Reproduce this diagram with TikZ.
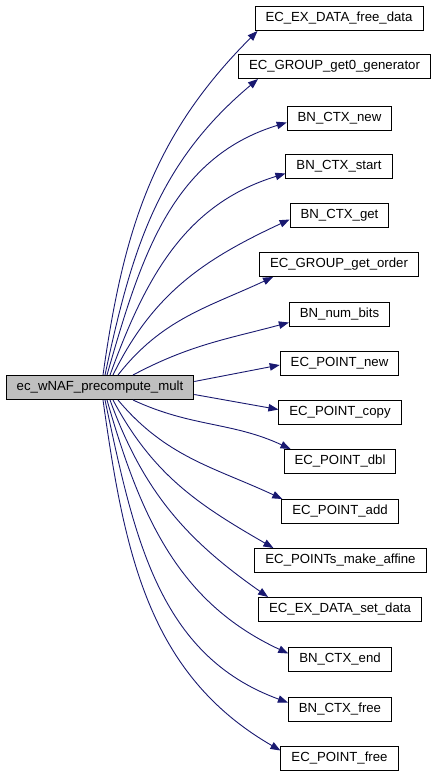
\documentclass[tikz,border=0pt]{standalone}
\usepackage{fontspec}
\setmainfont{Liberation Sans}
\usepackage{xcolor}
\usepackage{tikz}
\usetikzlibrary{arrows.meta}

\definecolor{edgeblue}{RGB}{25,25,112}
\definecolor{rootgray}{RGB}{191,191,191}

\begin{document}
\begin{tikzpicture}[
    x=1pt, y=1pt,
    fn/.style={
        draw=black, line width=1pt, fill=white,
        minimum height=24pt, inner xsep=10.5pt, inner ysep=2pt,
        font=\fontsize{13.2}{15}\selectfont, text centered
    },
    root/.style={fn, fill=rootgray},
    call/.style={
        -{Triangle[length=10pt, width=7.5pt]},
        draw=edgeblue, line width=0.9pt
    }
]
    \useasboundingbox (0,0) rectangle (442,-776);

    \node[root] (main) at (100,-387.5) {ec\_wNAF\_precompute\_mult};

    \node[fn] (frees) at (339,-18.5) {EC\_EX\_DATA\_free\_data};
    \node[fn] (getgen) at (334.5,-66.5) {EC\_GROUP\_get0\_generator};
    \node[fn] (ctxnew) at (339.5,-118) {BN\_CTX\_new};
    \node[fn] (ctxstart) at (339,-166) {BN\_CTX\_start};
    \node[fn] (ctxget) at (339.5,-215) {BN\_CTX\_get};
    \node[fn] (getorder) at (339,-264.5) {EC\_GROUP\_get\_order};
    \node[fn] (numbits) at (339.5,-314) {BN\_num\_bits};
    \node[fn] (ptnew) at (339.5,-363) {EC\_POINT\_new};
    \node[fn] (ptcopy) at (340,-412.5) {EC\_POINT\_copy};
    \node[fn] (ptdbl) at (340,-461.5) {EC\_POINT\_dbl};
    \node[fn] (ptadd) at (340,-511.5) {EC\_POINT\_add};
    \node[fn] (mkaffine) at (340.5,-560.5) {EC\_POINTs\_make\_affine};
    \node[fn] (setdata) at (340,-609.5) {EC\_EX\_DATA\_set\_data};
    \node[fn] (ctxend) at (340,-659) {BN\_CTX\_end};
    \node[fn] (ctxfree) at (340,-709) {BN\_CTX\_free};
    \node[fn] (ptfree) at (339.5,-758) {EC\_POINT\_free};

    % calls above the caller
    \draw[call] ([xshift=3pt]main.north) to[out=82, in=225] ([xshift=3pt]frees.south west);
    \draw[call] ([xshift=5pt]main.north) to[out=78, in=220] ([xshift=20pt]getgen.south west);
    \draw[call] ([xshift=7pt]main.north) to[out=74, in=197] ([yshift=8pt]ctxnew.south west);
    \draw[call] ([xshift=10pt]main.north) to[out=70, in=197] ([yshift=5pt]ctxstart.south west);
    \draw[call] ([xshift=13pt]main.north) to[out=64, in=205] ([yshift=8pt]ctxget.south west);
    \draw[call] ([xshift=18pt]main.north) to[out=52, in=205] ([xshift=14pt]getorder.south west);
    \draw[call] ([xshift=33pt]main.north) to[out=28, in=195] ([yshift=4pt]numbits.south west);
    \draw[call] ([yshift=6pt]main.east) -- ([yshift=-2pt]ptnew.west);

    % calls below the caller
    \draw[call] ([yshift=-7pt]main.east) -- ([yshift=3pt]ptcopy.west);
    \draw[call] ([xshift=33pt]main.south) to[out=-25, in=155] ([xshift=7pt]ptdbl.north west);
    \draw[call] ([xshift=18pt]main.south) to[out=-50, in=155] ([xshift=1pt]ptadd.north west);
    \draw[call] ([xshift=13pt]main.south) to[out=-62, in=150] ([xshift=19pt]mkaffine.north west);
    \draw[call] ([xshift=10pt]main.south) to[out=-70, in=145] ([xshift=10pt]setdata.north west);
    \draw[call] ([xshift=7pt]main.south) to[out=-74, in=155] ([yshift=-7pt]ctxend.north west);
    \draw[call] ([xshift=5pt]main.south) to[out=-78, in=160] ([yshift=-6pt]ctxfree.north west);
    \draw[call] ([xshift=3pt]main.south) to[out=-82, in=150] ([yshift=-5pt]ptfree.north west);
\end{tikzpicture}
\end{document}
